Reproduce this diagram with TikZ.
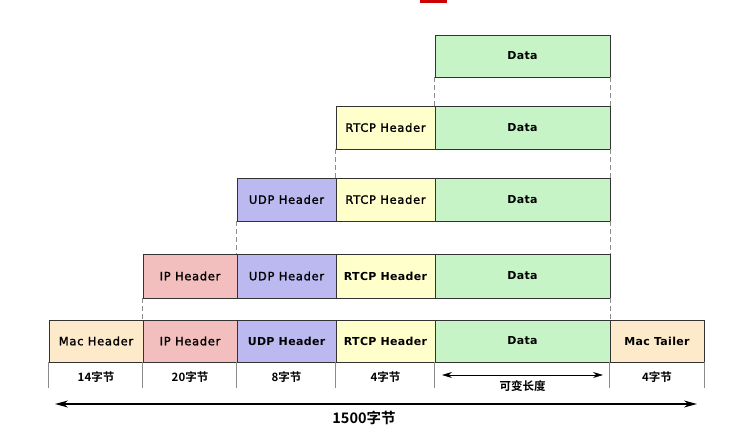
\documentclass[tikz,border=0pt]{standalone}
\usepackage{fontspec}
\setmainfont{DejaVu Sans}
\newfontfamily\medf[LetterSpace=6,FakeBold=1.6]{DejaVu Sans}
\newfontfamily\boldf[LetterSpace=3]{DejaVu Sans Bold}
\newfontfamily\cjk{Noto Sans CJK SC Bold}
\usetikzlibrary{arrows.meta}
\definecolor{macc}{HTML}{FCEACB}
\definecolor{ipc}{HTML}{F2BEBE}
\definecolor{udpc}{HTML}{BCB9F0}
\definecolor{rtcpc}{HTML}{FFFFCC}
\definecolor{datac}{HTML}{C6F4C6}
\definecolor{edge}{HTML}{333333}
\tikzset{
  cell/.style={draw=edge, line width=0.8pt, inner sep=0pt, font=\medf\fontsize{11.5}{13}\selectfont},
  cellb/.style={cell, font=\boldf\fontsize{11}{12}\selectfont},
  sizelbl/.style={inner sep=0pt, font=\cjk\fontsize{11.5}{13}\selectfont},
  sep/.style={draw=black!45, line width=0.7pt},
  guide/.style={draw=black!45, line width=0.7pt, dash pattern=on 5pt off 3pt},
}
\begin{document}
\begin{tikzpicture}[x=1pt,y=-1pt]
\useasboundingbox (0,0) rectangle (748,434);
\fill[red!80!black] (420,0) rectangle (447,3);
% row 1
\node[cellb, fill=datac, minimum width=175pt, minimum height=42pt] (d1) at (522.5,56) {Data};
% row 2
\node[cell, fill=rtcpc, minimum width=99pt, minimum height=43pt] (r2) at (385.5,127.5) {RTCP Header};
\node[cellb, fill=datac, minimum width=175pt, minimum height=43pt] (d2) at (522.5,127.5) {Data};
% row 3
\node[cell, fill=udpc, minimum width=99pt, minimum height=43pt] (u3) at (286.5,199.5) {UDP Header};
\node[cell, fill=rtcpc, minimum width=99pt, minimum height=43pt] (r3) at (385.5,199.5) {RTCP Header};
\node[cellb, fill=datac, minimum width=175pt, minimum height=43pt] (d3) at (522.5,199.5) {Data};
% row 4
\node[cell, fill=ipc, minimum width=94pt, minimum height=44pt] (i4) at (190,276) {IP Header};
\node[cell, fill=udpc, minimum width=99pt, minimum height=44pt] (u4) at (286.5,276) {UDP Header};
\node[cellb, fill=rtcpc, minimum width=99pt, minimum height=44pt] (r4) at (385.5,276) {RTCP Header};
\node[cellb, fill=datac, minimum width=175pt, minimum height=44pt] (d4) at (522.5,276) {Data};
% row 5
\node[cell, fill=macc, minimum width=94pt, minimum height=42pt] (m5) at (96,341) {Mac Header};
\node[cell, fill=ipc, minimum width=94pt, minimum height=42pt] (i5) at (190,341) {IP Header};
\node[cellb, fill=udpc, minimum width=99pt, minimum height=42pt] (u5) at (286.5,341) {UDP Header};
\node[cellb, fill=rtcpc, minimum width=99pt, minimum height=42pt] (r5) at (385.5,341) {RTCP Header};
\node[cellb, fill=datac, minimum width=175pt, minimum height=42pt] (d5) at (522.5,341) {Data};
\node[cellb, fill=macc, minimum width=94pt, minimum height=42pt] (t5) at (657,341) {Mac Tailer};
% guides between rows
\draw[guide] (d1.south west) -- (d2.north west);
\draw[guide] (d1.south east) -- (d2.north east);
\draw[guide] (r2.south west) -- (r3.north west);
\draw[guide] (d2.south east) -- (d3.north east);
\draw[guide] (u3.south west) -- (u4.north west);
\draw[guide] (d3.south east) -- (d4.north east);
\draw[guide] (i4.south west) -- (i5.north west);
\draw[guide] (d4.south east) -- (d5.north east);
% size row separators
\foreach \n in {m5,i5,u5,r5,d5,t5}{
  \draw[sep] (\n.south west) -- ++(0,26);
}
\draw[sep] (t5.south east) -- ++(0,26);
% size labels
\node[sizelbl] (s1) at (96,377) {14字节};
\node[sizelbl] (s2) at (190,377) {20字节};
\node[sizelbl] (s3) at (286.5,377) {8字节};
\node[sizelbl] (s4) at (385.5,377) {4字节};
\node[sizelbl] (s6) at (657,377) {4字节};
\coordinate (va) at (442,375);
\coordinate (vb) at (603,375);
\draw[line width=0.8pt, {Stealth[length=10pt,width=6pt]}-{Stealth[length=10pt,width=6pt]}] (va) -- (vb);
\node[sizelbl, font=\cjk\fontsize{11.5}{13}\selectfont] (s5) at (522.5,386) {可变长度};
% total arrow
\coordinate (ta) at (55,404);
\coordinate (tb) at (697,404);
\draw[line width=1.2pt, {Stealth[length=13pt,width=7pt]}-{Stealth[length=13pt,width=7pt]}] (ta) -- (tb);
\node[inner sep=0pt, font=\cjk\fontsize{14.5}{16}\selectfont] (tot) at (364,418) {1500字节};
\end{tikzpicture}
\end{document}
